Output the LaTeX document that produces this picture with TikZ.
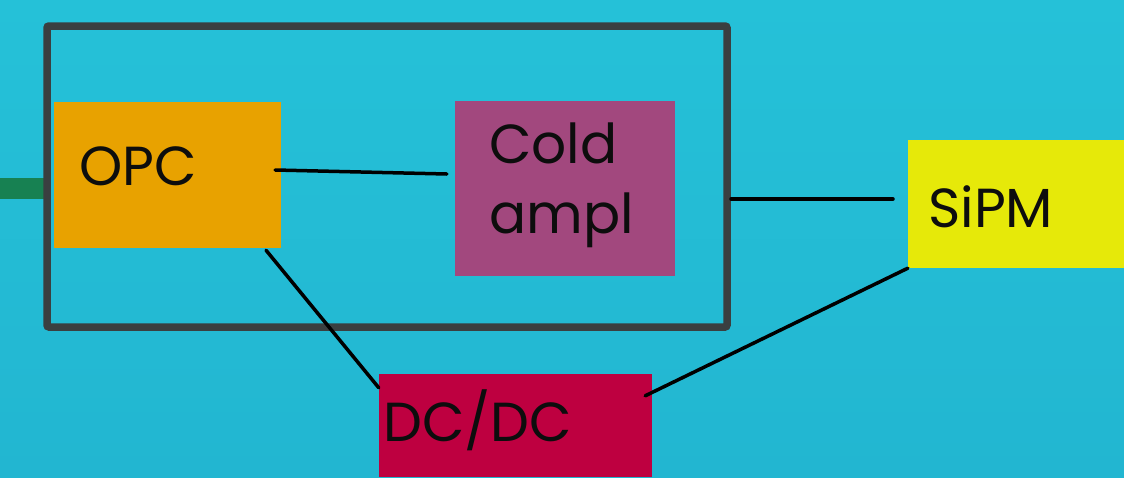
\documentclass[tikz,border=0pt]{standalone}
\usepackage{fontspec}
\setmainfont{Poppins}
\usetikzlibrary{calc}
\definecolor{bgtop}{HTML}{25C1D8}
\definecolor{bgbot}{HTML}{22B6D1}
\definecolor{framegray}{HTML}{3A3F40}
\definecolor{feedgreen}{HTML}{178152}
\definecolor{opcorange}{HTML}{E8A200}
\definecolor{amplpurple}{HTML}{A2487E}
\definecolor{sipmyellow}{HTML}{E6E909}
\definecolor{dcred}{HTML}{BE0040}
\tikzset{
  label text/.style={font=\fontsize{55}{66}\selectfont, text=black!95, inner sep=0pt},
  wire/.style={draw=black, line width=3.5pt, line cap=round},
}
\begin{document}
\begin{tikzpicture}[x=1pt,y=-1pt]
  % background
  \shade[top color=bgtop, bottom color=bgbot] (0,0) rectangle (1124,477);
  \useasboundingbox (0,0) rectangle (1124,477);

  % incoming feed line on the left
  \fill[feedgreen] (0,178) rectangle (44,199);

  % enclosure
  \draw[framegray, line width=7.5pt, rounded corners=2pt] (47,26) rectangle (727,327);

  % blocks
  \fill[opcorange] (54,102) rectangle (281,248);
  \node[inner sep=0pt, minimum width=227pt, minimum height=146pt] (opc) at (167.5,175) {};
  \fill[amplpurple] (455,101) rectangle (675,276);
  \node[inner sep=0pt, minimum width=220pt, minimum height=175pt] (ampl) at (565,188.5) {};
  \fill[sipmyellow] (908,140) rectangle (1124,268);
  \node[inner sep=0pt, minimum width=216pt, minimum height=128pt] (sipm) at (1016,204) {};
  \fill[dcred] (379,374) rectangle (652,477);
  \node[inner sep=0pt, minimum width=273pt, minimum height=103pt] (dcdc) at (515.5,425.5) {};

  % labels
  \node[label text, anchor=base west] (opclbl) at (79,185) {OPC};
  \node[label text, anchor=base west] (coldlbl) at (489,163) {Cold};
  \node[label text, anchor=base west] (ampllbl) at (489,233) {ampl};
  \node[label text, anchor=base west] (sipmlbl) at (928,227) {SiPM};
  \node[label text, anchor=base west] (dclbl) at (383,441) {DC/DC};

  % connection end points
  \coordinate (enclright) at (731,199);
  \coordinate (sipmin) at (893,199);

  % connectors
  \draw[wire] ($(opc.east)+(-6,-5)$) -- ($(ampl.west)+(-8,-14.5)$);
  \draw[wire] (enclright) -- (sipmin);
  \draw[wire] ($(opc.south)+(98.5,2)$) -- ($(dcdc.north west)+(0,14)$);
  \draw[wire] (sipm.south west) -- ($(dcdc.north east)+(-7,22)$);
\end{tikzpicture}
\end{document}
